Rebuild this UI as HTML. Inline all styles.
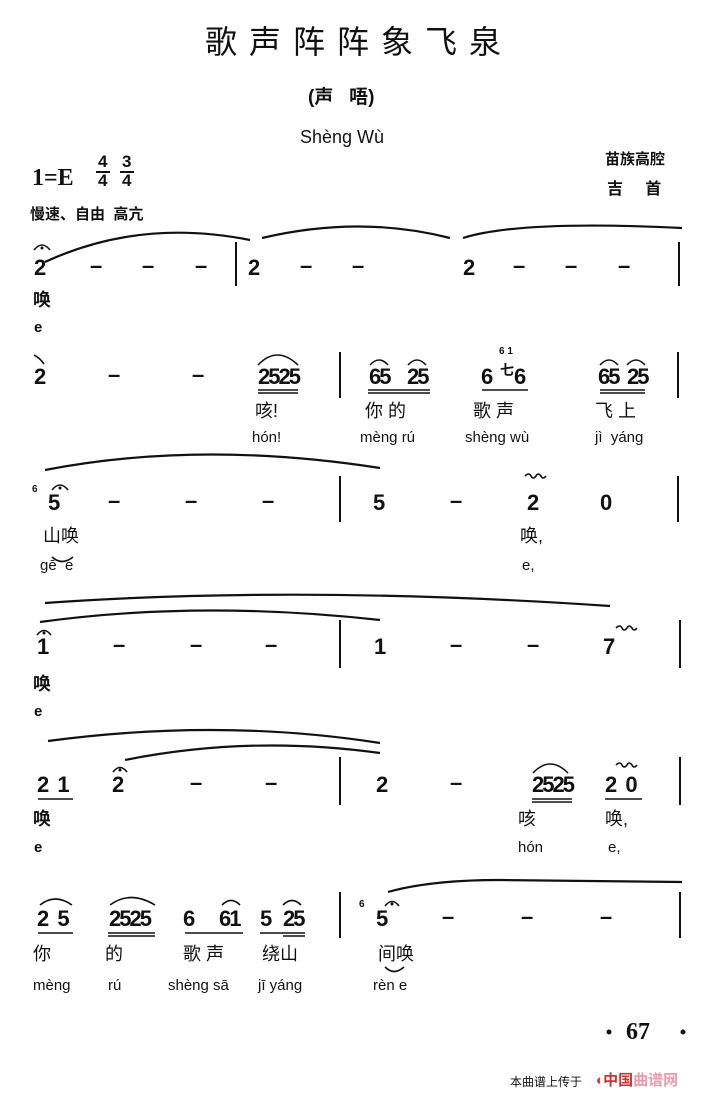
<!DOCTYPE html>
<html><head><meta charset="utf-8">
<style>
body{margin:0;background:#fff;}
#p{position:relative;width:701px;height:1100px;overflow:hidden;font-family:"Liberation Sans","Noto Sans CJK SC",sans-serif;color:#111;}
.a{position:absolute;white-space:nowrap;line-height:1;}
.n{font-weight:bold;font-size:22px;}
.g{letter-spacing:-2px;}
.c{font-size:18px;font-weight:bold;}
.y{font-size:15px;}
svg{position:absolute;left:0;top:0;}
</style></head><body><div id="p">
<div class="a" style="left:205px;top:24px;font-size:32px;letter-spacing:12px;font-family:'Noto Sans CJK SC',sans-serif">歌声阵阵象飞泉</div>
<div class="a" style="left:308px;top:88px;font-size:19px;font-weight:bold">(声&nbsp;&nbsp;&nbsp;唔)</div>
<div class="a" style="left:300px;top:128px;font-size:18px">Shèng Wù</div>
<div class="a" style="left:32px;top:166px;font-size:24px;font-weight:bold;font-family:'Liberation Serif',serif">1=E</div>
<div class="a" style="left:98px;top:152px;font-size:17px;font-weight:bold;text-align:center;line-height:19px">4<br>4</div>
<div class="a" style="left:122px;top:152px;font-size:17px;font-weight:bold;text-align:center;line-height:19px">3<br>4</div>
<div style="position:absolute;left:96px;top:171px;width:14px;height:2px;background:#111"></div>
<div style="position:absolute;left:120px;top:171px;width:14px;height:2px;background:#111"></div>
<div class="a" style="left:605px;top:152px;font-size:15px;font-weight:bold">苗族高腔</div>
<div class="a" style="left:607px;top:182px;font-size:16px;font-weight:bold">吉&nbsp;&nbsp;&nbsp;&nbsp;&nbsp;首</div>
<div class="a" style="left:30px;top:207px;font-size:15px;font-weight:bold">慢速、自由&nbsp;&nbsp;高亢</div>

<svg width="701" height="1100" fill="none" stroke="#111" stroke-width="2.2">
<g stroke-width="2">
<line x1="236" y1="242" x2="236" y2="286"/><line x1="679" y1="242" x2="679" y2="286"/>
<line x1="340" y1="352" x2="340" y2="398"/><line x1="678" y1="352" x2="678" y2="398"/>
<line x1="340" y1="476" x2="340" y2="522"/><line x1="678" y1="476" x2="678" y2="522"/>
<line x1="340" y1="620" x2="340" y2="668"/><line x1="680" y1="620" x2="680" y2="668"/>
<line x1="340" y1="757" x2="340" y2="805"/><line x1="680" y1="757" x2="680" y2="805"/>
<line x1="340" y1="892" x2="340" y2="938"/><line x1="680" y1="892" x2="680" y2="938"/>
</g>
<path d="M45 262 Q140 218 250 240"/><path d="M262 238 Q360 215 450 238"/><path d="M463 238 Q520 220 682 228"/>
<path d="M45 470 Q200 440 380 468"/>
<path d="M45 603 Q300 585 610 606"/><path d="M40 622 Q200 600 380 620"/>
<path d="M48 741 Q220 718 380 743"/><path d="M125 760 Q250 735 380 753"/>
<path d="M388 892 Q430 880 500 880 L682 882"/>
<g stroke-width="1.6">
<path d="M258 365 Q277 345 298 365"/>
<path d="M370 365 Q379 355 388 365"/><path d="M408 365 Q417 355 426 365"/>
<path d="M600 365 Q609 355 618 365"/><path d="M627 365 Q636 355 645 365"/>
<path d="M533 773 Q550 755 568 773"/>
<path d="M40 905 Q55 893 72 905"/><path d="M110 905 Q130 890 155 905"/>
<path d="M222 905 Q231 896 240 905"/><path d="M283 905 Q292 896 301 905"/>
<path d="M52 557 Q62 566 73 557"/><path d="M385 967 Q394 976 404 967"/>
<path d="M34 355 Q40 358 44 364"/>
<path d="M34 250 Q42 240 50 250"/><path d="M52 490 Q60 480 68 490"/>
<path d="M37 635 Q44 626 51 635"/><path d="M113 772 Q120 763 127 772"/>
<path d="M385 906 Q392 897 399 906"/>
<path d="M525 476 q4 -4 6 0 q2 4 5 0 q2 -4 5 0 q2 4 5 0" /><path d="M616 628 q4 -4 6 0 q2 4 5 0 q2 -4 5 0 q2 4 5 0"/><path d="M616 765 q4 -4 6 0 q2 4 5 0 q2 -4 5 0 q2 4 5 0"/>
</g>
<g fill="#111" stroke="none">
<circle cx="42" cy="248" r="1.5"/><circle cx="60" cy="488" r="1.5"/><circle cx="44" cy="633" r="1.5"/><circle cx="120" cy="770" r="1.5"/><circle cx="392" cy="904" r="1.5"/>
<circle cx="609" cy="1032" r="2.5"/><circle cx="683" cy="1032" r="2.5"/>
</g>
<g stroke-width="1.6">
<line x1="258" y1="390" x2="298" y2="390"/><line x1="258" y1="393" x2="298" y2="393"/>
<line x1="368" y1="390" x2="430" y2="390"/><line x1="368" y1="393" x2="430" y2="393"/>
<line x1="482" y1="390" x2="528" y2="390"/>
<line x1="600" y1="390" x2="645" y2="390"/><line x1="600" y1="393" x2="645" y2="393"/>
<line x1="38" y1="799" x2="73" y2="799"/>
<line x1="532" y1="799" x2="572" y2="799"/><line x1="532" y1="802" x2="572" y2="802"/>
<line x1="605" y1="799" x2="642" y2="799"/>
<line x1="38" y1="933" x2="73" y2="933"/>
<line x1="108" y1="933" x2="155" y2="933"/><line x1="108" y1="936" x2="155" y2="936"/>
<line x1="185" y1="933" x2="243" y2="933"/>
<line x1="260" y1="933" x2="305" y2="933"/><line x1="283" y1="936" x2="305" y2="936"/>
</g>
</svg>

<div class="a n" style="left:34px;top:257px">2</div>
<div class="a n" style="left:90px;top:255px">–</div><div class="a n" style="left:142px;top:255px">–</div><div class="a n" style="left:195px;top:255px">–</div>
<div class="a n" style="left:248px;top:257px">2</div>
<div class="a n" style="left:300px;top:255px">–</div><div class="a n" style="left:352px;top:255px">–</div>
<div class="a n" style="left:463px;top:257px">2</div>
<div class="a n" style="left:513px;top:255px">–</div><div class="a n" style="left:565px;top:255px">–</div><div class="a n" style="left:618px;top:255px">–</div>
<div class="a c" style="left:33px;top:291px">唤</div>
<div class="a y" style="left:34px;top:320px;font-weight:bold">e</div>

<div class="a n" style="left:34px;top:366px">2</div>
<div class="a n" style="left:108px;top:364px">–</div><div class="a n" style="left:192px;top:364px">–</div>
<div class="a n g" style="left:258px;top:366px">2525</div>
<div class="a n g" style="left:369px;top:366px">65</div><div class="a n g" style="left:407px;top:366px">25</div>
<div class="a n" style="left:481px;top:366px">6</div><div class="a" style="left:500px;top:363px;font-size:14px;font-weight:bold">七</div><div class="a n" style="left:514px;top:366px">6</div>
<div class="a" style="left:499px;top:347px;font-size:10px;font-weight:bold">6 1</div>
<div class="a n g" style="left:598px;top:366px">65</div><div class="a n g" style="left:627px;top:366px">25</div>
<div class="a c" style="left:255px;top:402px;font-weight:normal">咳!</div>
<div class="a c" style="left:365px;top:402px;font-weight:normal">你&nbsp;的</div>
<div class="a c" style="left:473px;top:402px;font-weight:normal">歌&nbsp;声</div>
<div class="a c" style="left:595px;top:402px;font-weight:normal">飞&nbsp;上</div>
<div class="a y" style="left:252px;top:430px">hón!</div>
<div class="a y" style="left:360px;top:430px">mèng rú</div>
<div class="a y" style="left:465px;top:430px">shèng wù</div>
<div class="a y" style="left:595px;top:430px">jì&nbsp;&nbsp;yáng</div>

<div class="a" style="left:32px;top:485px;font-size:10px;font-weight:bold">6</div>
<div class="a n" style="left:48px;top:492px">5</div>
<div class="a n" style="left:108px;top:490px">–</div><div class="a n" style="left:185px;top:490px">–</div><div class="a n" style="left:262px;top:490px">–</div>
<div class="a n" style="left:373px;top:492px">5</div>
<div class="a n" style="left:450px;top:490px">–</div>
<div class="a n" style="left:527px;top:492px">2</div>
<div class="a n" style="left:600px;top:492px">0</div>
<div class="a c" style="left:43px;top:527px;font-weight:normal">山唤</div>
<div class="a c" style="left:520px;top:527px;font-weight:normal">唤,</div>
<div class="a y" style="left:40px;top:558px">gē&nbsp;&nbsp;e</div>
<div class="a y" style="left:522px;top:558px">e,</div>

<div class="a n" style="left:37px;top:636px">1</div>
<div class="a n" style="left:113px;top:634px">–</div><div class="a n" style="left:190px;top:634px">–</div><div class="a n" style="left:265px;top:634px">–</div>
<div class="a n" style="left:374px;top:636px">1</div>
<div class="a n" style="left:450px;top:634px">–</div><div class="a n" style="left:527px;top:634px">–</div>
<div class="a n" style="left:603px;top:636px">7</div>
<div class="a c" style="left:33px;top:675px">唤</div>
<div class="a y" style="left:34px;top:704px;font-weight:bold">e</div>

<div class="a n" style="left:37px;top:774px;word-spacing:2px">2 1</div>
<div class="a n" style="left:112px;top:774px">2</div>
<div class="a n" style="left:190px;top:772px">–</div><div class="a n" style="left:265px;top:772px">–</div>
<div class="a n" style="left:376px;top:774px">2</div>
<div class="a n" style="left:450px;top:772px">–</div>
<div class="a n g" style="left:532px;top:774px">2525</div>
<div class="a n" style="left:605px;top:774px;word-spacing:2px">2 0</div>
<div class="a c" style="left:33px;top:810px">唤</div>
<div class="a c" style="left:518px;top:810px;font-weight:normal">咳</div>
<div class="a c" style="left:605px;top:810px;font-weight:normal">唤,</div>
<div class="a y" style="left:34px;top:840px;font-weight:bold">e</div>
<div class="a y" style="left:518px;top:840px">hón</div>
<div class="a y" style="left:608px;top:840px">e,</div>

<div class="a n" style="left:37px;top:908px;word-spacing:2px">2 5</div>
<div class="a n g" style="left:109px;top:908px">2525</div>
<div class="a n" style="left:183px;top:908px">6</div>
<div class="a n g" style="left:219px;top:908px">61</div>
<div class="a n" style="left:260px;top:908px">5</div>
<div class="a n g" style="left:283px;top:908px">25</div>
<div class="a" style="left:359px;top:900px;font-size:10px;font-weight:bold">6</div>
<div class="a n" style="left:376px;top:908px">5</div>
<div class="a n" style="left:442px;top:906px">–</div><div class="a n" style="left:521px;top:906px">–</div><div class="a n" style="left:600px;top:906px">–</div>
<div class="a c" style="left:33px;top:945px;font-weight:normal">你</div>
<div class="a c" style="left:105px;top:945px;font-weight:normal">的</div>
<div class="a c" style="left:183px;top:945px;font-weight:normal">歌&nbsp;声</div>
<div class="a c" style="left:262px;top:945px;font-weight:normal">绕山</div>
<div class="a c" style="left:378px;top:945px;font-weight:normal">间唤</div>
<div class="a y" style="left:33px;top:978px">mèng</div>
<div class="a y" style="left:108px;top:978px">rú</div>
<div class="a y" style="left:168px;top:978px">shèng sā</div>
<div class="a y" style="left:258px;top:978px">jī yáng</div>
<div class="a y" style="left:373px;top:978px">rèn e</div>
<div class="a" style="left:626px;top:1020px;font-size:24px;font-weight:bold;font-family:'Liberation Serif',serif">67</div>
<div class="a" style="left:510px;top:1076px;font-size:12px">本曲谱上传于</div>
<div class="a" style="left:594px;top:1073px;font-size:15px;font-weight:bold;color:#c44">◖<span style="color:#c33">中国</span><span style="color:#e9a">曲谱网</span></div>
</div></body></html>
